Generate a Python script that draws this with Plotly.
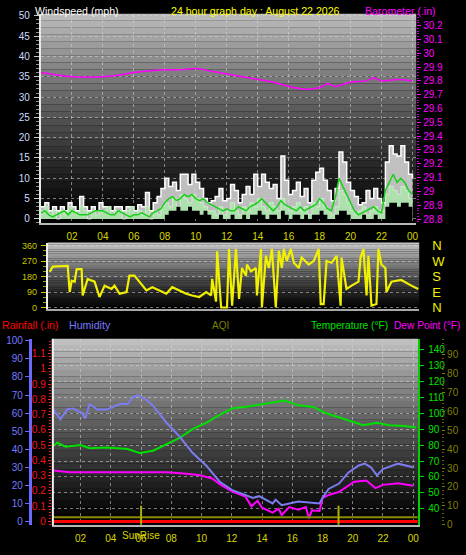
import plotly.graph_objects as go

W, H = 466, 555

# ---------------- DATA ----------------
# Top panel: wind (mph) at 15-minute samples, barometer (inHg)
wind_hours = [i / 4 for i in range(97)]
wind_gust = [3, 4, 2, 3, 2, 3, 2, 4, 3, 2, 5.5, 3, 2, 3, 2, 4,
             3, 3, 2, 3, 3, 2, 3, 3, 2, 3.5, 3, 6.5, 2, 4, 5.5, 7.5,
             10, 8, 9, 7, 11, 11, 8.5, 11, 9, 7.5, 5, 4, 4.5, 5.5, 7.5, 4.5,
             5, 8.5, 7, 4, 6, 8, 6, 11, 8, 11, 9, 7.5, 8.5, 5, 15.5, 9.5,
             6, 7, 9, 5.5, 7.5, 4, 9.5, 11.5, 12.5, 9.5, 7, 4.5, 7.5, 16.5, 14, 9,
             7, 5.5, 3.5, 4, 7, 5, 7.5, 5, 4, 14, 18, 16, 15.5, 18, 14, 11,
             10]
wind_speed = [2, 3, 1, 2, 0, 2, 1, 3, 2, 1, 3, 2, 0, 2, 1, 2,
              2, 3, 1, 2, 2, 0, 2, 3, 1, 2, 1, 3, 0, 2, 1, 3,
              4, 3, 5, 3, 6, 5, 4, 6, 5, 4, 3, 2, 2, 1, 3, 1,
              2, 4, 2, 1, 3, 2, 4, 3, 5, 3, 2, 4, 3, 2, 5, 3,
              2, 3, 4, 2, 3, 1, 4, 3, 5, 3, 2, 1, 3, 7, 6, 4,
              2, 1, 2, 3, 1, 2, 3, 2, 2, 6, 8, 7, 6, 8, 7, 5,
              5]
wind_lull = [0] * 32 + [1, 2, 2, 3, 2, 2, 3, 2, 2, 1, 2, 1, 0, 0, 1, 0,
                        0, 1, 0, 0, 1, 0, 1, 1, 2, 1, 0, 1, 1, 0, 2, 1,
                        0, 1, 1, 0, 1, 0, 1, 1, 2, 1, 0, 0, 1, 2, 2, 1,
                        0, 0, 0, 1, 0, 0, 1, 0, 0, 3, 4, 4, 3, 4, 4, 3,
                        3]
wind_avg = [1.5, 2, 1, 0.5, 1, 1.5, 2, 1, 2, 1.5, 1, 1, 1, 1.5, 2, 2,
            2, 1.5, 1, 1, 2, 1.5, 1, 0.5, 1, 1, 1.5, 1, 0.5, 1.5, 2, 2.5,
            4, 5, 5.5, 4.5, 5, 6, 5.5, 6, 5, 4.5, 5, 4, 3.5, 3, 2.5, 2,
            2.5, 2, 2, 3, 2.5, 2, 3, 3.5, 4, 5, 4, 3, 2, 3, 4.5, 3.5,
            3, 2.5, 2, 3, 2, 2.5, 3, 3.5, 5, 4, 2.5, 2, 5, 10, 8, 6,
            4, 2, 1, 1.5, 2, 2.5, 3, 2, 1.5, 7, 9, 11, 9, 10, 9, 7,
            6]
baro_hours = [0, 2, 4, 5, 6, 8, 9, 10, 11, 12, 13, 14, 15, 16, 17, 18, 18.5,
              19, 20, 21, 21.5, 22, 23, 24]
baro_inhg = [29.86, 29.83, 29.83, 29.84, 29.86, 29.88, 29.88, 29.89, 29.87,
             29.85, 29.83, 29.81, 29.79, 29.76, 29.74, 29.75, 29.78, 29.76,
             29.79, 29.80, 29.82, 29.80, 29.81, 29.80]

# Middle panel: wind direction (degrees)
dir_hours = [0.13, 0.32, 1.29, 1.42, 1.55, 1.74, 1.87, 2.19, 2.26, 2.58, 3.03, 3.35,
             3.68, 4.13, 4.32, 4.65, 5.1, 5.29, 5.61, 5.94, 6.39, 6.77, 7.23, 7.68,
             8.06, 8.52, 8.97, 9.35, 9.81, 10.26, 10.58, 10.65, 10.9, 10.97, 11.23,
             11.61, 11.74, 11.94, 12.19, 12.39, 12.58, 12.84, 12.9, 13.16, 13.48,
             13.55, 13.81, 13.87, 14.13, 14.32, 14.52, 14.77, 14.97, 15.16, 15.29,
             15.48, 15.74, 15.94, 16.26, 16.45, 16.9, 17.23, 17.55, 17.68, 17.87,
             18.06, 18.39, 18.71, 18.97, 19.03, 19.35, 19.68, 20.13, 20.26, 20.45,
             20.65, 20.77, 20.97, 21.29, 21.42, 21.61, 21.87, 21.94, 22.26, 22.9,
             23.55, 24.0]
dir_deg = [207, 238, 242, 90, 156, 150, 223, 223, 70, 166, 150, 61,
           127, 108, 127, 80, 90, 185, 185, 150, 99, 118, 99, 80,
           118, 99, 80, 70, 61, 90, 70, 166, 34, 327, 0,
           0, 340, 10, 340, 50, 230, 185, 250, 210, 230,
           70, 340, 0, 300, 230, 340, 0, 330, 230, 340,
           270, 340, 260, 230, 290, 250, 270, 340, 20, 20,
           270, 260, 300, 10, 290, 108, 127, 150, 290, 340,
           70, 300, 10, 20, 340, 250, 230, 90, 150, 160,
           127, 108]

# Bottom panel
hum_hours = [0.2, 0.66, 1.1, 1.5, 2.1, 2.3, 2.6, 3.1, 3.75, 4.6,
             5.1, 5.5, 5.8, 6.4, 6.8, 7.7, 8.55, 9.4, 10.3, 11.2,
             12.0, 12.5, 13.4, 13.8, 14.7, 14.9, 15.3, 16.4, 17.8, 18.0,
             18.4, 19.1, 19.7, 20.4, 20.8, 21.2, 21.6, 22.0, 23.0, 24.0]
humidity = [62, 56.5, 62, 62.5, 60, 57, 65, 62, 62, 65,
            65, 69, 70, 67, 64, 54.5, 47, 38, 31, 22,
            17.5, 16, 13, 14, 10, 12, 9, 11, 10, 13,
            18, 21, 27, 31, 32, 30, 25.5, 29, 32, 30]
temp_hours = [0.2, 0.46, 1.0, 2.0, 2.6, 3.75, 5.1, 5.9, 6.8, 7.7,
              8.55, 9.4, 10.3, 11.2, 12.0, 13.2, 14.5, 15.5, 16.4, 17.4,
              18.1, 19.1, 20.1, 20.7, 21.6, 22.4, 23.4, 24.2]
temp_f = [79.5, 81.5, 79, 80, 78, 78.5, 77.5, 75, 76.5, 80.5,
          84.5, 90, 94, 99, 103, 104.5, 106.5, 108, 105, 104,
          100.5, 97.5, 94, 92.5, 94, 92.5, 92, 91]
dew_hours = [0.2, 1.3, 3.75, 6.4, 7.7, 9.0, 9.9, 10.7, 11.2, 12.0,
             12.9, 13.3, 13.7, 14.0, 14.7, 15.1, 15.3, 15.8, 16.4, 16.9,
             17.1, 17.3, 17.8, 18.0, 18.4, 19.1, 20.1, 20.9, 21.5, 22.0,
             23.0, 24.0]
dew_f = [64, 63, 63, 63, 63, 62, 61, 59, 55.5, 51,
         47.6, 41.5, 45, 40.6, 37.5, 40, 36, 41, 39.4, 41,
         34, 39, 38.6, 46.8, 48.6, 50.6, 57, 57.7, 53, 55,
         56, 54.5]
rain_hours = [0.1, 24.3]
rain_in = [0, 0]
aqi_hours = [0.1, 24.3]
aqi = [4, 4]
sun_hours = [6.0, 19.06]
sun_label = "SunRise"

hour_ticks = list(range(2, 25, 2))
hour_labels = ["02", "04", "06", "08", "10", "12", "14", "16", "18", "20", "22", "00"]
speed_ticks = list(range(0, 51, 5))
baro_ticks = [round(28.8 + 0.1 * i, 1) for i in range(15)]
dir_ticks = [0, 90, 180, 270, 360]
compass_labels = ["N", "E", "S", "W", "N"]
hum_ticks = list(range(0, 101, 10))
rain_ticks = [round(0.1 * i, 1) for i in range(13)]
temp_ticks = list(range(40, 141, 10))
aqi_ticks = list(range(0, 101, 10))

title_text = "24 hour graph day : August 22 2026"

# ---------------- STYLE ----------------
FONT = "Liberation Sans, Arial, sans-serif"
YEL = "#d8d800"
GRID = "rgba(215,215,215,0.55)"
HSZ = 10.6


def py(p):
    return 1 - p / H


def px(p):
    return p / W


fig = go.Figure()

# top panel traces
fig.add_trace(go.Scatter(x=wind_hours, y=wind_gust, mode="lines", line_shape="hv",
                         line=dict(color="white", width=1.5), fill="tozeroy",
                         fillcolor="rgba(210,210,210,0.9)", xaxis="x", yaxis="y"))
fig.add_trace(go.Scatter(x=wind_hours, y=wind_speed, mode="lines", line_shape="hv",
                         line=dict(color="#c8f0c8", width=1), fill="tozeroy",
                         fillcolor="#aee0ae", xaxis="x", yaxis="y"))
fig.add_trace(go.Scatter(x=wind_hours, y=wind_lull, mode="lines", line_shape="hv",
                         line=dict(color="black", width=0), fill="tozeroy",
                         fillcolor="black", xaxis="x", yaxis="y"))
fig.add_trace(go.Scatter(x=wind_hours, y=wind_avg, mode="lines",
                         line=dict(color="#18d018", width=1.5), xaxis="x", yaxis="y"))
fig.add_trace(go.Scatter(x=baro_hours, y=baro_inhg, mode="lines", line_shape="spline",
                         line=dict(color="#ff00ff", width=1.5), xaxis="x", yaxis="y2"))

# direction
fig.add_trace(go.Scatter(x=dir_hours, y=dir_deg, mode="lines",
                         line=dict(color="#f0f000", width=2.2), xaxis="x2", yaxis="y3"))
fig.add_trace(go.Scatter(x=[None], y=[None], mode="lines", xaxis="x2", yaxis="y4"))

# bottom
fig.add_trace(go.Scatter(x=aqi_hours, y=aqi, mode="lines",
                         line=dict(color="#8a8a00", width=2), xaxis="x3", yaxis="y8"))
for t in sun_hours:
    fig.add_trace(go.Scatter(x=[t, t], y=[0, 10], mode="lines",
                             line=dict(color="#b0b000", width=2), xaxis="x3", yaxis="y8"))
fig.add_trace(go.Scatter(x=rain_hours, y=rain_in, mode="lines",
                         line=dict(color="#ff0000", width=3), xaxis="x3", yaxis="y7"))
fig.add_trace(go.Scatter(x=hum_hours, y=humidity, mode="lines",
                         line=dict(color="#7c7cf0", width=2), xaxis="x3", yaxis="y6"))
fig.add_trace(go.Scatter(x=temp_hours, y=temp_f, mode="lines",
                         line=dict(color="#00e000", width=2), xaxis="x3", yaxis="y5"))
fig.add_trace(go.Scatter(x=dew_hours, y=dew_f, mode="lines",
                         line=dict(color="#ff00ff", width=2), xaxis="x3", yaxis="y5"))

# gradient backgrounds
shapes = []


def gradient(xr, yr, top, n=30, gamma=1.2):
    for i in range(n):
        t = (i + 0.5) / n  # 0 at bottom
        v = int(top * (t ** gamma))
        shapes.append(dict(type="rect", xref=f"{xr} domain", yref=f"{yr} domain",
                           x0=0, x1=1, y0=i / n, y1=(i + 1) / n, layer="below",
                           line=dict(width=0), fillcolor=f"rgb({v},{v},{v})"))


gradient("x", "y", 190)
gradient("x2", "y3", 200)
gradient("x3", "y5", 195)
shapes.append(dict(type="line", xref="x3 domain", yref="y5 domain", x0=0.003, x1=0.003,
                   y0=0, y1=1, line=dict(color="#f0f0f0", width=2), layer="above"))

common_grid = dict(showgrid=True, gridcolor=GRID, griddash="dot", gridwidth=1, zeroline=False)

fig.update_layout(
    width=W, height=H, margin=dict(l=0, r=0, t=0, b=0),
    paper_bgcolor="black", plot_bgcolor="rgba(0,0,0,0)", showlegend=False,
    font=dict(family=FONT, size=10, color="white"),
    shapes=shapes,
    xaxis=dict(domain=[px(41), px(418)], range=[-0.013, 24.24], anchor="y",
               tickvals=hour_ticks, ticktext=hour_labels, ticks="",
               tickfont=dict(color=YEL, size=10), ticklabelstandoff=3,
               showline=True, linecolor="#b8b8b8", linewidth=2, **common_grid),
    yaxis=dict(domain=[py(223), py(10)], range=[-1, 50.5], anchor="x",
               tickvals=speed_ticks, ticks="outside", ticklen=5, tickcolor="#c8c8c8",
               minor=dict(dtick=1, ticklen=3, ticks="outside", tickcolor="#909090", showgrid=False),
               tickfont=dict(color="#c8dcff", size=10), ticklabelstandoff=2,
               showline=True, linecolor="#e8e8e8", linewidth=2, **common_grid),
    yaxis2=dict(overlaying="y", side="right", anchor="x", range=[28.772, 30.285],
                tickvals=baro_ticks, ticktext=[f"{v:g}" for v in baro_ticks],
                ticks="outside", ticklen=4, tickcolor="#ff00ff",
                minor=dict(dtick=0.02, ticklen=2, ticks="outside", tickcolor="#c000c0"),
                tickfont=dict(color="#ff00ff", size=10), showgrid=False, zeroline=False),
    xaxis2=dict(domain=[px(48), px(421)], range=[0, 24.06], anchor="y3",
                showticklabels=False, ticks="", showgrid=False, zeroline=False,
                showline=True, linecolor="#a8a8a8", linewidth=2),
    yaxis3=dict(domain=[py(311), py(243)], range=[-11, 377], anchor="x2",
                tickvals=dir_ticks, ticks="outside", ticklen=5, tickcolor="#c8c800",
                minor=dict(dtick=30, ticklen=3, ticks="outside", tickcolor="#a0a000"),
                tickfont=dict(color="#c8c800", size=9), ticklabelstandoff=2,
                showline=True, linecolor="#f0f0f0", linewidth=2, **common_grid),
    yaxis4=dict(overlaying="y3", side="right", anchor="x2", range=[-11, 377],
                tickvals=dir_ticks, ticktext=compass_labels, ticks="",
                tickfont=dict(color="#f0f000", size=13), ticklabelstandoff=12,
                showgrid=False, zeroline=False),
    xaxis3=dict(domain=[px(52), px(420)], range=[0.092, 24.33], anchor="y5",
                tickvals=hour_ticks, ticktext=hour_labels, ticks="",
                tickfont=dict(color=YEL, size=10), ticklabelstandoff=3,
                showline=True, linecolor="#b8b8b8", linewidth=2, **common_grid),
    yaxis5=dict(domain=[py(531), py(341)], range=[29.5, 146.8], anchor="x3", side="right",
                tickvals=temp_ticks, ticks="outside", ticklen=4, tickcolor="#00e000",
                tickfont=dict(color="#00e000", size=10), ticklabelstandoff=2,
                showline=True, linecolor="#00d000", linewidth=2, **common_grid),
    yaxis6=dict(overlaying="y5", anchor="free", position=px(30), side="left",
                range=[-2.2, 101.1], tickvals=hum_ticks, ticks="outside", ticklen=4,
                tickcolor="#6a6aff", tickfont=dict(color="#7878ff", size=10),
                showline=True, linecolor="#6a6aff", linewidth=3, showgrid=False, zeroline=False),
    yaxis7=dict(overlaying="y5", anchor="free", position=px(51), side="left",
                range=[-0.026, 1.196], tickvals=rain_ticks,
                ticktext=[f"{v:g}" for v in rain_ticks], ticks="outside", ticklen=3,
                tickcolor="#ff2020", minor=dict(dtick=0.02, ticklen=2, ticks="outside", tickcolor="#e02020"),
                tickfont=dict(color="#ff1010", size=10), showline=False, showgrid=False, zeroline=False),
    yaxis8=dict(overlaying="y5", anchor="free", position=px(443), side="right",
                range=[-0.4, 98.5], tickvals=aqi_ticks, ticks="outside", ticklen=3,
                tickcolor="#808000", minor=dict(dtick=2, ticklen=2, ticks="outside", tickcolor="#606000"),
                tickfont=dict(color="#808000", size=10), showline=False, showgrid=False, zeroline=False),
)

ann = [
    dict(text="Windspeed (mph)", x=px(33), y=py(7), xanchor="left", font=dict(color="white", size=HSZ)),
    dict(text=title_text, x=px(257), y=py(7), xanchor="center", font=dict(color="#ffff00", size=HSZ)),
    dict(text="Barometer (.in)", x=px(440), y=py(7), xanchor="right", font=dict(color="#ff00ff", size=HSZ)),
    dict(text="Rainfall (.in)", x=px(0), y=py(327), xanchor="left", font=dict(color="#ff0000", size=HSZ)),
    dict(text="Humidity", x=px(67), y=py(327), xanchor="left", font=dict(color="#7878ff", size=HSZ)),
    dict(text="AQI", x=px(221), y=py(327), xanchor="center", font=dict(color="#808000", size=10)),
    dict(text="Temperature (°F)", x=px(392), y=py(327), xanchor="right", font=dict(color="#00e000", size=10.2)),
    dict(text="Dew Point (°F)", x=px(394), y=py(327), xanchor="left", font=dict(color="#ff00ff", size=10.2)),
]
for a in ann:
    a.update(xref="paper", yref="paper", yanchor="middle", showarrow=False)
ann.append(dict(text=sun_label, x=sun_hours[0], xref="x3", y=py(541), yref="paper",
                yanchor="middle", xanchor="center", showarrow=False,
                font=dict(color=YEL, size=10)))
fig.update_layout(annotations=ann)

fig.write_html("out.html", config={"displayModeBar": False},
               post_script="document.body.style.margin='0';document.body.style.overflow='hidden';")
